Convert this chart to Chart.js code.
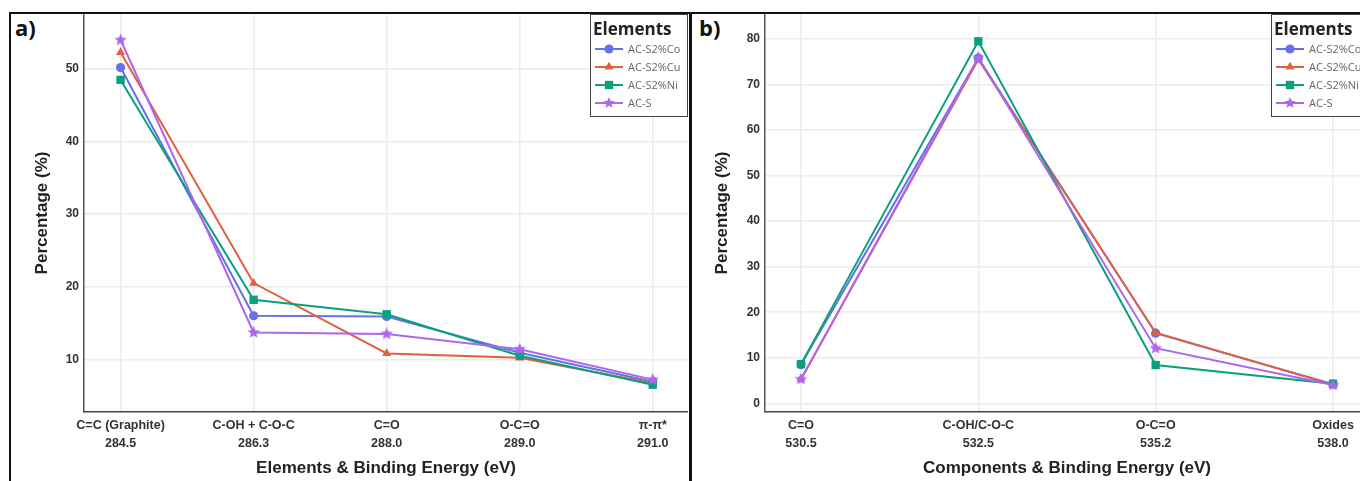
<!DOCTYPE html>
<html>
<head>
<meta charset="utf-8">
<script src="https://cdn.jsdelivr.net/npm/chart.js@4.4.1/dist/chart.umd.min.js"></script>
<style>
  html, body { margin: 0; padding: 0; background: #fff; }
  body { width: 1360px; height: 481px; overflow: hidden; position: relative; }
  .frame { position: absolute; box-sizing: border-box; border: 0 solid #111; }
  #frameA { left: 9px; top: 12px; width: 683px; height: 480px; border-width: 2px 3px 0 2px; }
  #frameB { left: 692px; top: 12px; width: 700px; height: 480px; border-top-width: 2px; }
  .tag { position: absolute; font: 700 22px "Open Sans", sans-serif; color: #111; line-height: 1; }
  canvas { position: absolute; }
</style>
</head>
<body>
<div class="frame" id="frameA"></div>
<div class="frame" id="frameB"></div>
<div class="tag" style="left:15px;top:16px">a)</div>
<div class="tag" style="left:699px;top:16px">b)</div>
<canvas id="chartA" width="678" height="467" style="left:10px;top:14px"></canvas>
<canvas id="chartB" width="675" height="467" style="left:694px;top:14px"></canvas>

<script>
// series
const seriesNames = ["AC-S2%Co", "AC-S2%Cu", "AC-S2%Ni", "AC-S"];

// panel a: carbon components
const carbonLabels = ["C=C (Graphite)", "C-OH + C-O-C", "C=O", "O-C=O", "π-π*"];
const carbonEnergies = ["284.5", "286.3", "288.0", "289.0", "291.0"];
const carbonCo = [50.2, 16.0, 15.9, 10.9, 6.9];
const carbonCu = [52.3, 20.5, 10.8, 10.2, 6.7];
const carbonNi = [48.5, 18.2, 16.2, 10.5, 6.5];
const carbonS  = [54.0, 13.7, 13.5, 11.4, 7.2];
const carbonTicks = [10, 20, 30, 40, 50];

// panel b: oxygen components
const oxygenLabels = ["C=O", "C-OH/C-O-C", "O-C=O", "Oxides"];
const oxygenEnergies = ["530.5", "532.5", "535.2", "538.0"];
const oxygenCo = [8.5, 75.8, 15.4, 4.2];
const oxygenCu = [5.3, 75.5, 15.5, 4.1];
const oxygenNi = [8.6, 79.5, 8.4, 4.3];
const oxygenS  = [5.3, 75.9, 12.1, 4.0];
const oxygenTicks = [0, 10, 20, 30, 40, 50, 60, 70, 80];

// look
const colors = ["#6571e8", "#e0603f", "#0aa07e", "#ad66ee"];
const markers = ["circle", "triangle", "rect", "star"];
const radii = [4.6, 5.2, 5.9, 6.5];

Chart.defaults.font.family = '"Liberation Sans", Arial, sans-serif';
Chart.defaults.color = "#333";

function starImage(color, size) {
  const c = document.createElement("canvas");
  c.width = c.height = size;
  const g = c.getContext("2d");
  const cx = size / 2, r1 = size / 2, r2 = r1 * 0.45;
  g.fillStyle = color;
  g.beginPath();
  for (let k = 0; k < 10; k++) {
    const r = k % 2 ? r2 : r1;
    const a = -Math.PI / 2 + k * Math.PI / 5;
    g.lineTo(cx + r * Math.cos(a), cx + r * Math.sin(a));
  }
  g.closePath();
  g.fill();
  return c;
}

function drawMarker(ctx, style, color, r, x, y) {
  ctx.fillStyle = color;
  ctx.beginPath();
  if (style === "circle") {
    ctx.arc(x, y, r, 0, Math.PI * 2);
  } else if (style === "triangle") {
    ctx.moveTo(x, y - r);
    ctx.lineTo(x + r * 0.87, y + r * 0.5);
    ctx.lineTo(x - r * 0.87, y + r * 0.5);
  } else if (style === "rect") {
    const s = r * Math.SQRT1_2;
    ctx.rect(x - s, y - s, 2 * s, 2 * s);
  } else {
    const r2 = r * 0.45;
    for (let k = 0; k < 10; k++) {
      const rr = k % 2 ? r2 : r;
      const a = -Math.PI / 2 + k * Math.PI / 5;
      ctx.lineTo(x + rr * Math.cos(a), y + rr * Math.sin(a));
    }
  }
  ctx.closePath();
  ctx.fill();
}

// plotly-like boxed legend in the top right corner of the plot
const elementsLegend = {
  id: "elementsLegend",
  afterDraw(chart) {
    const { ctx, chartArea } = chart;
    const w = 98, h = 103;
    const x0 = chartArea.right - w, y0 = chartArea.top;
    ctx.save();
    ctx.fillStyle = "#fff";
    ctx.fillRect(x0, y0, w, h);
    ctx.strokeStyle = "#444";
    ctx.lineWidth = 1;
    ctx.strokeRect(x0 + 0.5, y0 + 0.5, w - 1, h - 1);
    ctx.fillStyle = "#222";
    ctx.textBaseline = "middle";
    ctx.font = '700 17px "Open Sans", sans-serif';
    ctx.fillText("Elements", x0 + 3, y0 + 16);
    ctx.font = '11px "Open Sans", sans-serif';
    chart.data.datasets.forEach((ds, i) => {
      const y = y0 + 35 + i * 18;
      ctx.strokeStyle = ds.borderColor;
      ctx.lineWidth = 2;
      ctx.beginPath();
      ctx.moveTo(x0 + 5, y);
      ctx.lineTo(x0 + 33, y);
      ctx.stroke();
      drawMarker(ctx, markers[i], colors[i], markers[i] === "star" ? 6 : radii[i], x0 + 19, y);
      ctx.fillStyle = "#666";
      ctx.fillText(ds.label, x0 + 38, y + 1);
    });
    ctx.restore();
  }
};

function noPadding(s) {
  s.paddingTop = 0;
  s.paddingBottom = 0;
  s.paddingLeft = 0;
  s.paddingRight = 0;
}

function makeChart(id, labels, energies, values, ticks, opts) {
  const datasets = values.map((vals, i) => ({
    label: seriesNames[i],
    data: vals.map((v, j) => ({ x: j, y: v })),
    borderColor: colors[i],
    backgroundColor: colors[i],
    borderWidth: 2,
    tension: 0,
    pointStyle: markers[i] === "star" ? starImage(colors[i], 13) : markers[i],
    pointRadius: radii[i],
    pointBorderWidth: 0,
    clip: 8,
    order: 3 - i
  }));

  return new Chart(document.getElementById(id), {
    type: "line",
    data: { datasets },
    plugins: [elementsLegend],
    options: {
      responsive: false,
      animation: false,
      layout: { padding: 0, autoPadding: false },
      plugins: { legend: { display: false }, tooltip: { enabled: false } },
      scales: {
        x: {
          type: "linear",
          min: opts.xMin,
          max: opts.xMax,
          afterBuildTicks: (s) => { s.ticks = labels.map((_, i) => ({ value: i })); },
          afterFit: (s) => { s.height = 69; noPadding(s); },
          grid: { color: "#ececec", lineWidth: 1.5, drawTicks: false },
          border: { display: true, color: "#444", width: 1.5 },
          ticks: {
            autoSkip: false,
            maxRotation: 0,
            padding: 4,
            color: "#333",
            font: { size: 12.5, weight: "bold", lineHeight: 1.45 },
            callback: (v) => [labels[v], energies[v]]
          },
          title: {
            display: true,
            text: opts.xTitle,
            color: "#222",
            font: { size: 17, weight: "bold", lineHeight: 1.1 },
            padding: { top: 0, bottom: 3 }
          }
        },
        y: {
          min: opts.yMin,
          max: opts.yMax,
          afterBuildTicks: (s) => { s.ticks = ticks.map((v) => ({ value: v })); },
          afterFit: (s) => { s.width = opts.yWidth; noPadding(s); },
          grid: { color: "#ececec", lineWidth: 1.5, drawTicks: false },
          border: { display: true, color: "#555", width: 1.5 },
          ticks: { padding: 5, color: "#333", font: { size: 12, weight: "bold" } },
          title: {
            display: true,
            text: "Percentage (%)",
            color: "#222",
            font: { size: 17, weight: "bold", lineHeight: 1.1 },
            padding: { top: opts.yTitlePad, bottom: 0 }
          }
        }
      }
    }
  });
}

makeChart("chartA", carbonLabels, carbonEnergies,
  [carbonCo, carbonCu, carbonNi, carbonS], carbonTicks,
  { xMin: -0.275, xMax: 4.265, yMin: 2.74, yMax: 57.58, yWidth: 74, yTitlePad: 23,
    xTitle: "Elements & Binding Energy (eV)" });

makeChart("chartB", oxygenLabels, oxygenEnergies,
  [oxygenCo, oxygenCu, oxygenNi, oxygenS], oxygenTicks,
  { xMin: -0.203, xMax: 3.203, yMin: -1.91, yMax: 85.49, yWidth: 71, yTitlePad: 19,
    xTitle: "Components & Binding Energy (eV)" });
</script>
</body>
</html>
